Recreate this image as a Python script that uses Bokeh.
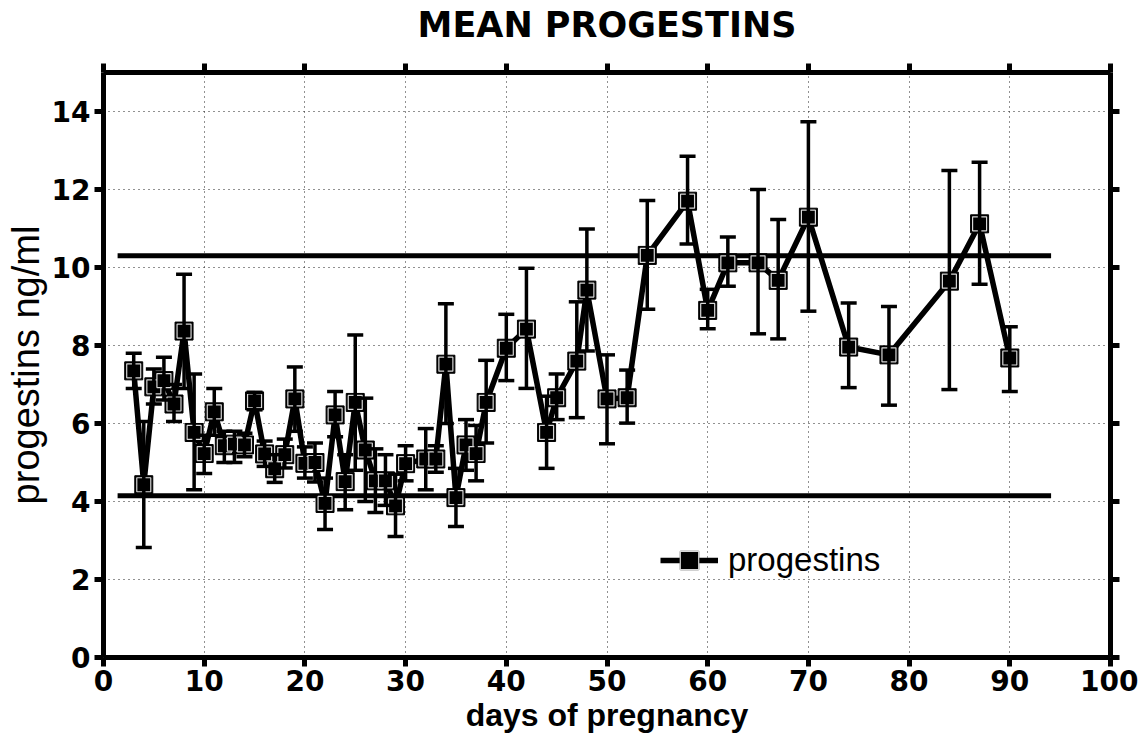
from bokeh.plotting import figure
from bokeh.models import (ColumnDataSource, Whisker, TeeHead, LinearAxis, FixedTicker,
                          Range1d, Legend, LegendItem, CustomLabelingPolicy)
from bokeh.embed import file_html
from bokeh.resources import INLINE

# ---- data ----
days = [3, 4, 5, 6, 7, 8, 9, 10, 11, 12, 13, 14, 15, 16, 17, 18, 19, 20, 21, 22,
        23, 24, 25, 26, 27, 28, 29, 30, 32, 33, 34, 35, 36, 37, 38, 40, 42, 44, 45,
        47, 48, 50, 52, 54, 58, 60, 62, 65, 67, 70, 74, 78, 84, 87, 90]
mean = [7.35, 4.43, 6.94, 7.10, 6.50, 8.37, 5.77, 5.23, 6.30, 5.43, 5.47, 5.45, 6.58,
        5.22, 4.84, 5.20, 6.63, 4.98, 5.00, 3.95, 6.22, 4.51, 6.54, 5.32, 4.53, 4.53,
        3.89, 4.97, 5.09, 5.09, 7.52, 4.10, 5.45, 5.23, 6.54, 7.93, 8.42, 5.77, 6.66,
        7.60, 9.42, 6.63, 6.66, 10.31, 11.70, 8.90, 10.12, 10.12, 9.67, 11.29, 7.96,
        7.76, 9.65, 11.12, 7.68]
upper = [7.80, 6.05, 7.40, 7.70, 7.00, 9.83, 7.27, 5.70, 6.90, 5.80, 5.80, 5.75, 6.80,
         5.55, 5.20, 5.60, 7.45, 5.40, 5.50, 4.60, 6.82, 5.20, 8.27, 6.65, 5.35, 5.20,
         4.70, 5.43, 5.87, 5.43, 9.07, 4.85, 6.10, 5.95, 7.62, 8.80, 9.98, 6.70, 7.27,
         9.12, 10.99, 7.76, 7.37, 11.72, 12.85, 9.44, 10.78, 12.00, 11.23, 13.74, 9.09,
         9.00, 12.49, 12.70, 8.48]
lower = [6.90, 2.82, 6.50, 6.60, 6.05, 6.90, 4.30, 4.72, 5.70, 5.00, 5.00, 5.15, 6.35,
         4.90, 4.49, 4.86, 5.80, 4.60, 4.50, 3.28, 5.66, 3.79, 4.80, 4.00, 3.72, 3.90,
         3.10, 4.53, 4.30, 4.75, 6.00, 3.36, 4.80, 4.53, 5.50, 7.10, 6.90, 4.85, 6.10,
         6.15, 7.86, 5.48, 6.01, 8.93, 10.60, 8.43, 9.52, 8.30, 8.17, 8.88, 6.92,
         6.47, 6.87, 9.57, 6.82]

ref_levels = [10.3, 4.15]
ref_start = [1.4, 1.4]
ref_end = [94.1, 94.1]

x_ticks = [0, 10, 20, 30, 40, 50, 60, 70, 80, 90, 100]
y_ticks = [0, 2, 4, 6, 8, 10, 12, 14]

FONT = "Liberation Sans"
TICKFONT = "DejaVu Sans"

src = ColumnDataSource(dict(x=days, y=mean, upper=upper, lower=lower))

p = figure(width=1138, height=740, x_range=Range1d(0, 100), y_range=Range1d(0, 15),
           output_backend="svg", toolbar_location=None,
           min_border_left=103, min_border_right=28, min_border_top=72, min_border_bottom=83,
           title="MEAN PROGESTINS")
p.outline_line_color = None
p.background_fill_color = "white"
p.border_fill_color = "white"

bottom_ax = p.below[0]
left_ax = p.left[0]

p.title.text_font = "DejaVu Sans"
p.title.text_font_size = "35px"
p.title.text_font_style = "bold"
p.title.align = "center"
p.title.text_color = "black"
p.title.standoff = 4

# grids
p.xgrid.ticker = FixedTicker(ticks=x_ticks)
p.ygrid.ticker = FixedTicker(ticks=y_ticks)
p.grid.grid_line_color = "#222222"
p.grid.grid_line_dash = "1 4"
p.grid.grid_line_width = 1

no_labels = "for (const i of indices) { indices.unset(i) }\nreturn indices"

# extra axes (top, right) with ticks only
top_ax = LinearAxis(ticker=FixedTicker(ticks=x_ticks), major_label_standoff=12,
                    major_label_text_font_size="2px",
                    major_label_policy=CustomLabelingPolicy(code=no_labels))
right_ax = LinearAxis(ticker=FixedTicker(ticks=y_ticks), major_label_standoff=0,
                      major_label_text_font_size="2px",
                      major_label_policy=CustomLabelingPolicy(code=no_labels))
p.add_layout(top_ax, "above")
p.add_layout(right_ax, "right")

bottom_ax.ticker = FixedTicker(ticks=x_ticks)
left_ax.ticker = FixedTicker(ticks=y_ticks)

for ax in [bottom_ax, left_ax, top_ax, right_ax]:
    ax.axis_line_width = 5
    ax.axis_line_color = "black"
    ax.major_tick_line_width = 5
    ax.major_tick_line_color = "black"
    ax.major_tick_in = 0
    ax.major_tick_out = 9
    ax.minor_tick_in = 0
    ax.minor_tick_out = 0
    ax.major_label_text_font = TICKFONT
    ax.major_label_text_font_style = "bold"
    ax.major_label_text_color = "black"

for ax in [bottom_ax, left_ax]:
    ax.major_label_text_font_size = "28px"
    ax.axis_label_text_font = FONT
    ax.axis_label_text_color = "black"

bottom_ax.major_label_standoff = 3
left_ax.major_label_standoff = 4

bottom_ax.axis_label = "days of pregnancy"
bottom_ax.axis_label_text_font_style = "bold"
bottom_ax.axis_label_text_font_size = "32px"
bottom_ax.axis_label_standoff = 3

left_ax.axis_label = "progestins ng/ml"
left_ax.axis_label_text_font_style = "normal"
left_ax.axis_label_text_font_size = "38px"
left_ax.axis_label_standoff = 2

# reference lines
p.segment(x0=ref_start, x1=ref_end, y0=ref_levels, y1=ref_levels,
          line_width=5, line_color="black")

# error bars
wh = Whisker(base="x", upper="upper", lower="lower", source=src,
             line_width=3.5, line_color="black", level="glyph",
             upper_head=TeeHead(size=16, line_width=3.5, line_color="black"),
             lower_head=TeeHead(size=16, line_width=3.5, line_color="black"))
p.add_layout(wh)

line_r = p.line("x", "y", source=src, line_width=5.5, line_color="black", line_join="round")
outer_r = p.scatter("x", "y", source=src, marker="square", size=18,
                    fill_color="black", line_color="black", line_width=1)
inner_r = p.scatter("x", "y", source=src, marker="square", size=14,
                    fill_color="black", line_color="#d8d8d8", line_width=1.2)

legend = Legend(items=[LegendItem(label="progestins", renderers=[line_r, outer_r, inner_r])],
                location=(557, 74), glyph_width=58, glyph_height=46, label_standoff=10,
                padding=0, margin=0, border_line_color=None, background_fill_alpha=0,
                label_text_font=FONT, label_text_font_size="33px", label_text_color="black")
p.add_layout(legend)

open("out.html", "w").write(file_html(p, INLINE))
